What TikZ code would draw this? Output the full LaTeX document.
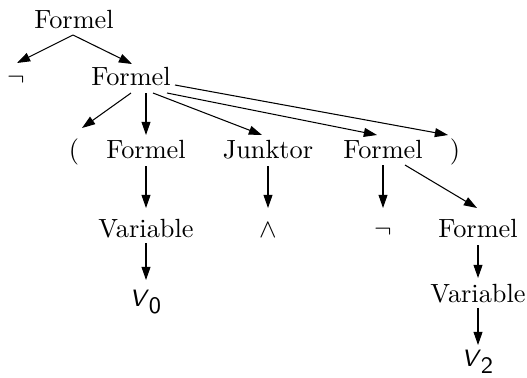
\documentclass[tikz,border=0pt]{standalone}
\usetikzlibrary{arrows.meta}
\begin{document}
\begin{tikzpicture}[x=0.38pt,y=-0.38pt,
  lbl/.style={anchor=base,inner sep=0pt},
  vlbl/.style={anchor=base,inner sep=0pt,font=\fontsize{9}{11}\selectfont},
  arr/.style={line width=0.4pt,-{Triangle[length=5pt,width=3.4pt]}}]
\useasboundingbox (0,0) rectangle (527,377);
% nodes (base positions)
\node[lbl] (F1) at (74,28) {Formel};
\node[lbl] (neg1) at (16,85) {$\neg$};
\node[lbl] (F2) at (131,85) {Formel};
\node[lbl] (P1) at (74,158) {(};
\node[lbl] (F3a) at (146,158) {Formel};
\node[lbl] (J) at (268,158) {Junktor};
\node[lbl] (F3b) at (383,158) {Formel};
\node[lbl] (P2) at (455,158) {)};
\node[lbl] (Var1) at (146,237) {Variable};
\node[lbl] (W) at (268,237) {$\wedge$};
\node[lbl] (neg2) at (383,237) {$\neg$};
\node[lbl] (F4) at (478,237) {Formel};
\node[vlbl] (V0) at (146,306) {$\textsf{\textit{V}}_{\textsf{0}}$};
\node[lbl] (Var2) at (478,302) {Variable};
\node[vlbl] (V2) at (478,366) {$\textsf{\textit{V}}_{\textsf{2}}$};
% edges
\draw[arr] ([shift={(-1,7)}]F1.base) -- ([shift={(1,-22)}]neg1.base);
\draw[arr] ([shift={(-1,7)}]F1.base) -- ([shift={(1,-21)}]F2.base);
\draw[arr] ([shift={(0,8)}]F2.base) -- ([shift={(8,-30)}]P1.base);
\draw[arr] ([shift={(15,8)}]F2.base) -- ([shift={(0,-23)}]F3a.base);
\draw[arr] ([shift={(22,8)}]F2.base) -- ([shift={(-6,-23)}]J.base);
\draw[arr] ([shift={(36,8)}]F2.base) -- ([shift={(-6,-23)}]F3b.base);
\draw[arr] ([shift={(44,0)}]F2.base) -- ([shift={(-7,-23)}]P2.base);
\draw[arr] ([shift={(0,8)}]F3a.base) -- ([shift={(0,-29)}]Var1.base);
\draw[arr] ([shift={(0,8)}]J.base) -- ([shift={(0,-29)}]W.base);
\draw[arr] ([shift={(0,7)}]F3b.base) -- ([shift={(0,-29)}]neg2.base);
\draw[arr] ([shift={(22,7)}]F3b.base) -- ([shift={(-1,-29)}]F4.base);
\draw[arr] ([shift={(0,6)}]Var1.base) -- ([shift={(0,-26)}]V0.base);
\draw[arr] ([shift={(0,8)}]F4.base) -- ([shift={(0,-24)}]Var2.base);
\draw[arr] ([shift={(0,6)}]Var2.base) -- ([shift={(0,-21)}]V2.base);
\end{tikzpicture}
\end{document}
